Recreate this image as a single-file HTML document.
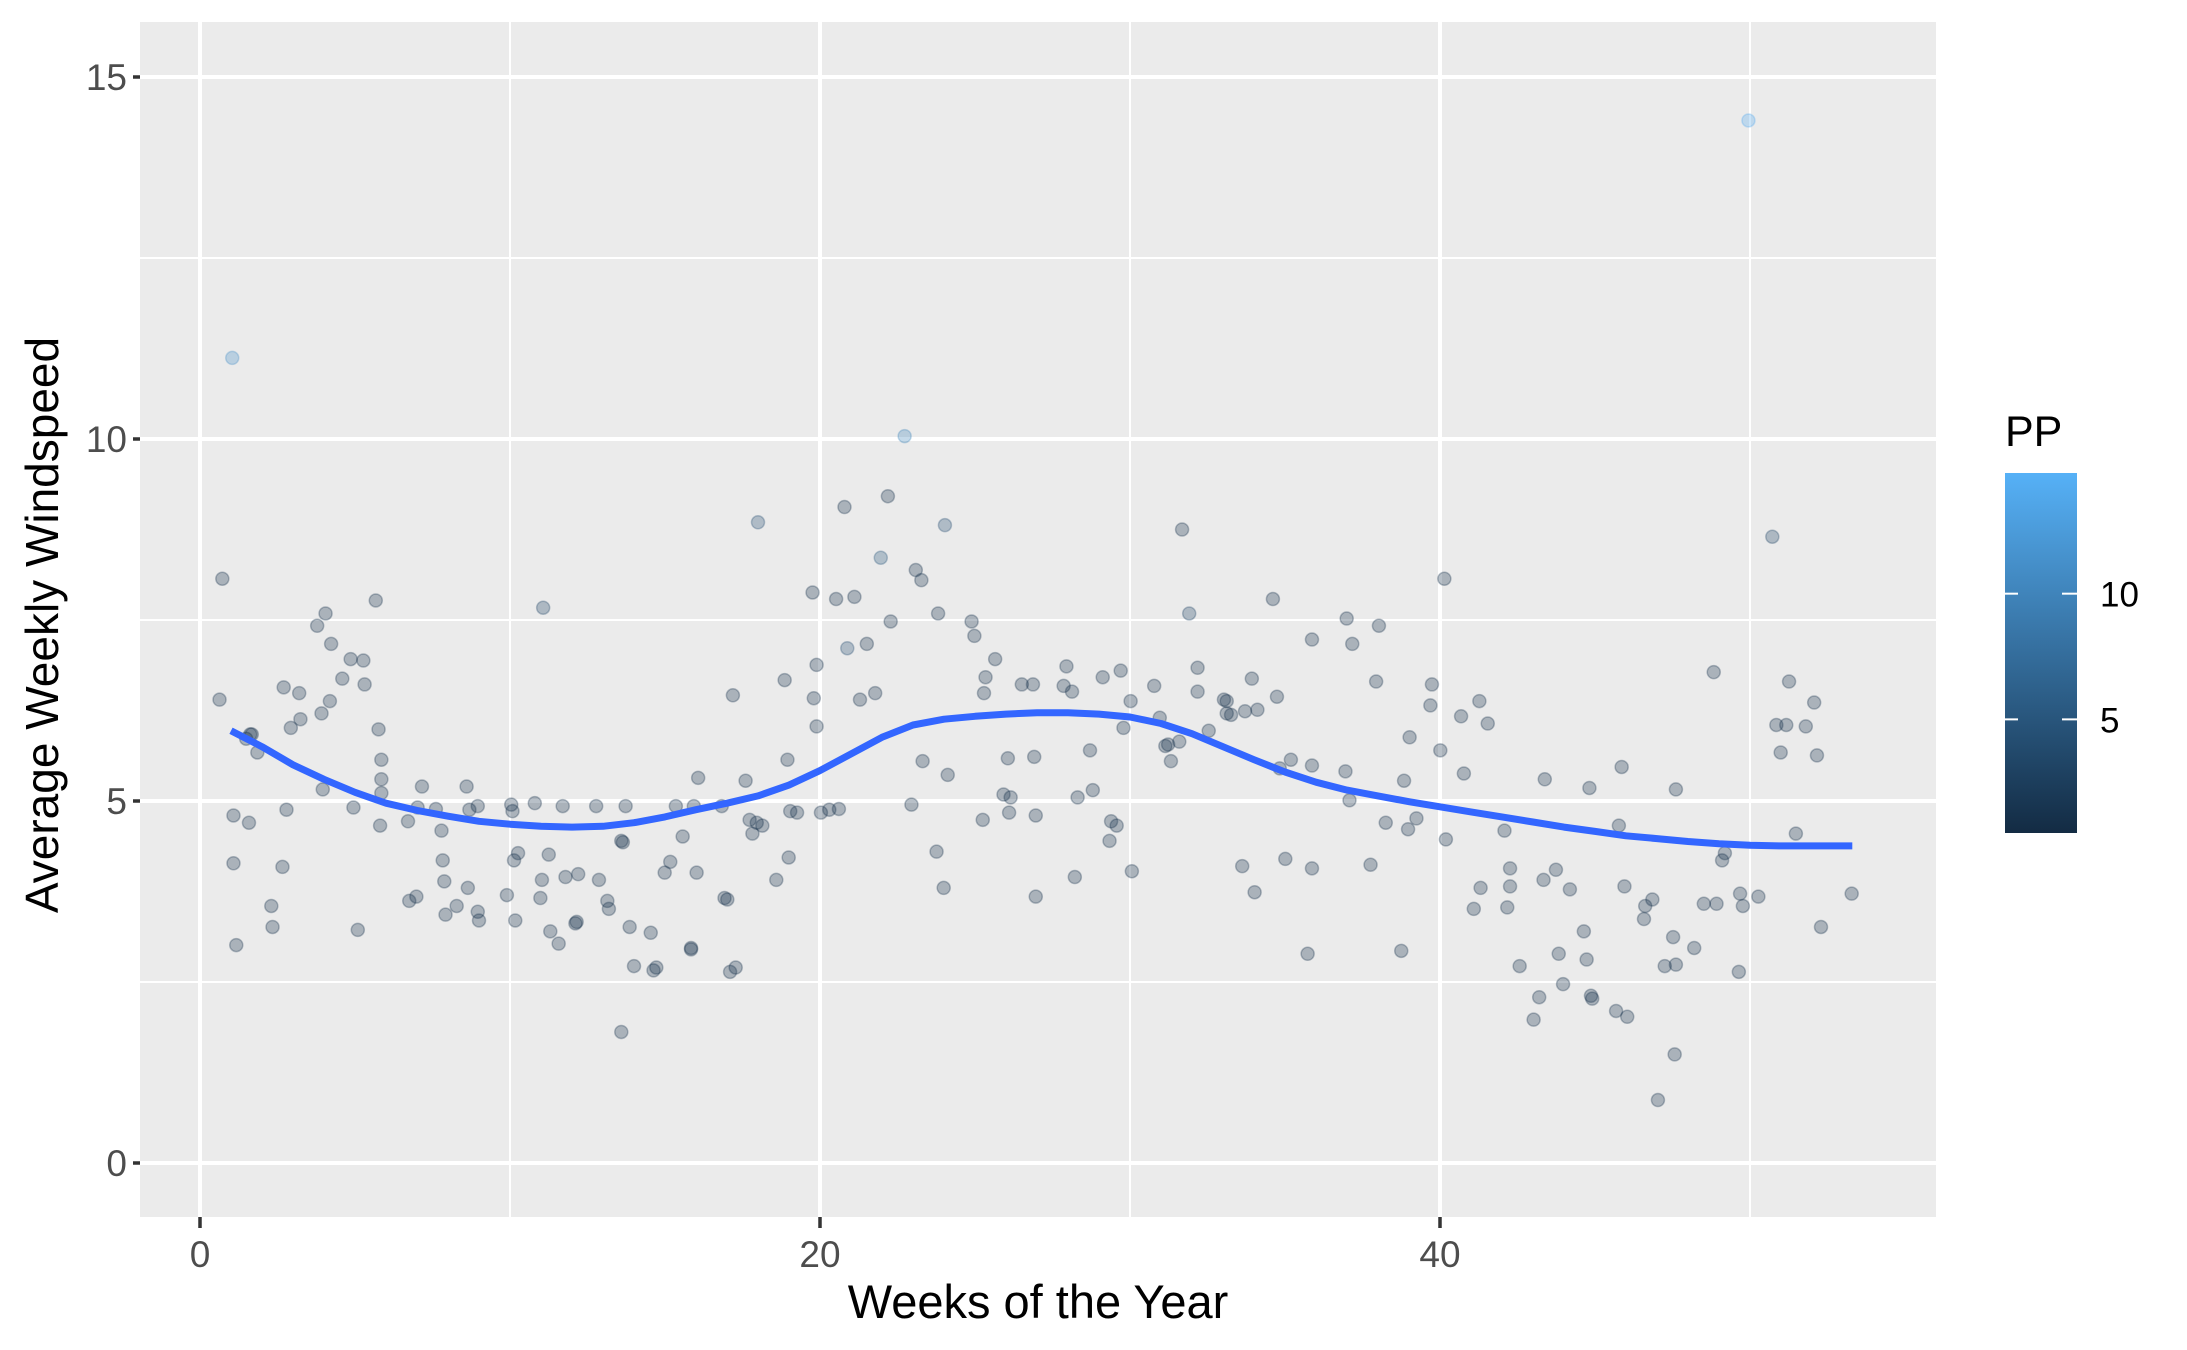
<!DOCTYPE html>
<html><head><meta charset="utf-8"><style>
html,body{margin:0;padding:0;background:#fff;}
svg{display:block;font-family:"Liberation Sans",Arial,sans-serif;}
</style></head><body>
<svg id="chart" width="2187" height="1350" viewBox="0 0 2187 1350" xmlns="http://www.w3.org/2000/svg">
<defs>
<linearGradient id="ppgrad" x1="0" y1="1" x2="0" y2="0">
<stop offset="0" stop-color="#132B43"/><stop offset="1" stop-color="#56B1F7"/>
</linearGradient>
</defs>
<rect x="140" y="22" width="1796" height="1195" fill="#EBEBEB"/>
<g id="grid"></g>
<g id="points"></g>
<g id="smooth"></g>
<g id="axes"></g>
<text x="1038" y="1318" font-size="47" text-anchor="middle" fill="#000">Weeks of the Year</text>
<text transform="translate(58,625) rotate(-90)" font-size="46" text-anchor="middle" fill="#000">Average Weekly Windspeed</text>
<g>
<text x="2005" y="446" font-size="43" fill="#000">PP</text>
<rect x="2005" y="473" width="72" height="360" fill="url(#ppgrad)"/>
<g id="legendticks"></g>
</g>
</svg>
<script>
const xTicks=[0,20,40];
const xMinor=[10,30,50];
const yTicks=[0,5,10,15];
const yMinor=[2.5,7.5,12.5];
const legendTicks=[5,10];
const weeks=[0.63,0.72,1.04,1.08,1.08,1.17,1.49,1.58,1.62,1.67,1.85,2.30,2.34,2.66,2.70,2.79,2.93,3.20,3.24,3.78,3.92,3.96,4.05,4.19,4.23,4.59,4.86,4.95,5.09,5.27,5.31,5.67,5.76,5.81,5.85,5.85,5.85,6.71,6.75,6.98,7.02,7.16,7.61,7.79,7.83,7.88,7.92,8.28,8.60,8.64,8.69,8.96,9.00,8.96,9.90,10.04,10.08,10.13,10.17,10.26,10.80,10.98,11.03,11.07,11.25,11.30,11.57,11.70,11.79,12.11,12.15,12.20,12.78,12.87,13.14,13.19,13.59,13.64,13.59,13.73,13.86,14.00,14.54,14.63,14.72,14.99,15.17,15.35,15.57,15.84,15.84,15.93,16.02,16.07,16.83,16.92,17.01,17.10,17.19,17.28,17.60,17.73,17.82,17.96,18.00,18.14,18.59,18.86,18.95,18.99,19.04,19.26,19.76,19.80,19.89,19.89,20.03,20.30,20.52,20.61,20.79,20.88,21.11,21.29,21.51,21.78,21.96,22.19,22.28,22.73,22.95,23.09,23.27,23.31,23.76,23.81,23.99,24.03,24.12,24.89,24.98,25.25,25.29,25.34,25.65,25.92,26.06,26.10,26.15,26.51,26.87,26.91,26.96,26.96,27.86,27.95,28.13,28.22,28.31,28.71,28.80,29.12,29.34,29.39,29.57,29.70,29.79,30.02,30.06,30.78,30.96,31.14,31.23,31.32,31.59,31.68,31.91,32.18,32.18,32.54,33.03,33.12,33.12,33.26,33.62,33.71,33.93,34.02,34.11,34.61,34.74,34.83,35.01,35.19,35.73,35.87,35.87,35.87,36.95,36.99,37.08,37.17,37.76,37.94,38.03,38.25,38.75,38.84,38.97,39.02,39.24,39.69,39.74,40.01,40.14,40.19,40.68,40.77,41.09,41.27,41.31,41.54,42.08,42.17,42.26,42.26,42.57,43.02,43.20,43.34,43.38,43.74,43.83,43.97,44.19,44.64,44.73,44.82,44.87,44.91,45.68,45.77,45.86,45.95,46.04,46.58,46.62,46.85,47.03,47.25,47.52,47.57,47.61,47.61,48.20,48.51,48.83,48.92,49.10,49.19,49.64,49.68,49.77,49.95,50.27,50.72,50.85,50.99,51.17,51.26,51.48,51.80,52.07,52.16,52.29,53.28];
const windspeed=[6.40,8.07,11.12,4.80,4.14,3.01,5.86,4.70,5.92,5.92,5.67,3.55,3.26,4.09,6.57,4.88,6.01,6.49,6.13,7.42,6.21,5.16,7.59,6.38,7.17,6.69,6.96,4.91,3.22,6.94,6.61,7.77,5.99,4.66,5.57,5.30,5.11,4.72,3.62,3.68,4.91,5.20,4.89,4.59,4.18,3.89,3.43,3.55,5.20,3.80,4.88,3.47,3.35,4.93,3.70,4.95,4.86,4.18,3.35,4.28,4.97,3.66,3.91,7.67,4.26,3.20,3.03,4.93,3.95,3.31,3.33,3.99,4.93,3.91,3.62,3.51,4.45,4.43,1.81,4.93,3.26,2.72,3.18,2.66,2.70,4.01,4.16,4.93,4.51,2.97,2.95,4.93,4.01,5.32,4.93,3.66,3.64,2.64,6.46,2.70,5.28,4.74,4.55,4.70,8.85,4.66,3.91,6.67,5.57,4.22,4.86,4.84,7.88,6.42,6.03,6.88,4.84,4.88,7.79,4.89,9.06,7.11,7.82,6.40,7.17,6.49,8.36,9.21,7.48,10.04,4.95,8.19,8.05,5.55,4.30,7.59,3.80,8.81,5.36,7.48,7.28,4.74,6.49,6.71,6.96,5.09,5.59,4.84,5.05,6.61,6.61,5.61,4.80,3.68,6.59,6.86,6.51,3.95,5.05,5.70,5.15,6.71,4.45,4.72,4.66,6.80,6.01,6.38,4.03,6.59,6.15,5.76,5.78,5.55,5.82,8.75,7.59,6.51,6.84,5.97,6.40,6.38,6.21,6.19,4.10,6.24,6.69,3.74,6.26,7.79,6.44,5.45,4.20,5.57,2.89,7.23,5.49,4.07,5.41,7.52,5.01,7.17,4.12,6.65,7.42,4.70,2.93,5.28,4.61,5.88,4.76,6.32,6.61,5.70,8.07,4.47,6.17,5.38,3.51,6.38,3.80,6.07,4.59,3.53,4.07,3.82,2.72,1.98,2.29,3.91,5.30,4.05,2.89,2.47,3.78,3.20,2.81,5.18,2.31,2.27,2.10,4.66,5.47,3.82,2.02,3.37,3.55,3.64,0.87,2.72,3.12,1.50,2.74,5.16,2.97,3.58,6.78,3.58,4.18,4.28,2.64,3.72,3.55,14.40,3.68,8.65,6.05,5.67,6.05,6.65,4.55,6.03,6.36,5.63,3.26,3.72];
const ppBright=[[2,11],[63,3],[104,4],[121,4],[126,5],[129,10],[137,4],[176,3],[263,14],[265,3]];
const smoothWeeks=[1,2,3,4,5,6,7,8,9,10,11,12,13,14,15,16,17,18,19,20,21,22,23,24,25,26,27,28,29,30,31,32,33,34,35,36,37,38,39,40,41,42,43,44,45,46,47,48,49,50,51,52,53.3];
const smoothVals=[5.97,5.75,5.50,5.30,5.12,4.97,4.87,4.79,4.72,4.68,4.65,4.64,4.65,4.70,4.78,4.88,4.97,5.07,5.22,5.42,5.65,5.88,6.05,6.13,6.17,6.20,6.22,6.22,6.20,6.16,6.07,5.93,5.75,5.57,5.40,5.26,5.15,5.07,4.99,4.92,4.85,4.78,4.71,4.64,4.58,4.52,4.48,4.44,4.41,4.39,4.38,4.38,4.38];
const ppMin=0.48, ppMax=14.8;
const NS="http://www.w3.org/2000/svg";
const X0=140,X1=1936,Y0=22,Y1=1217;
function xs(w){return 200+w*31.0;}
function ys(v){return 1163-v*72.4;}
function ppY(p){return 833-(p-ppMin)/(ppMax-ppMin)*360;}
function mk(tag,attrs,parent){const e=document.createElementNS(NS,tag);for(const k in attrs)e.setAttribute(k,attrs[k]);parent.appendChild(e);return e;}
function lerpColor(p){const t=Math.max(0,Math.min(1,(p-ppMin)/(ppMax-ppMin)));const a=[19,43,67],b=[86,177,247];return 'rgb('+a.map((c,i)=>Math.round(c+(b[i]-c)*t)).join(',')+')';}
const grid=document.getElementById('grid');
yMinor.forEach(v=>{const l=mk('line',{x1:X0,x2:X1,y1:ys(v),y2:ys(v),stroke:'#fff','stroke-width':2},grid);

});
xMinor.forEach(v=>{const l=mk('line',{x1:xs(v),x2:xs(v),y1:Y0,y2:Y1,stroke:'#fff','stroke-width':2},grid);

});
yTicks.forEach(v=>{const l=mk('line',{x1:X0,x2:X1,y1:ys(v),y2:ys(v),stroke:'#fff','stroke-width':4},grid);

});
xTicks.forEach(v=>{const l=mk('line',{x1:xs(v),x2:xs(v),y1:Y0,y2:Y1,stroke:'#fff','stroke-width':4},grid);

});
const pts=document.getElementById('points');
const pp=weeks.map(()=>1);
ppBright.forEach(([i,p])=>{pp[i]=p;});
weeks.forEach((w,i)=>{const c=mk('circle',{cx:xs(w),cy:ys(windspeed[i]),r:6.5,fill:lerpColor(pp[i]),'fill-opacity':0.3,stroke:lerpColor(pp[i]),'stroke-opacity':0.3,'stroke-width':1.5},pts);

});
const sm=document.getElementById('smooth');
const d=smoothWeeks.map((w,i)=>(i?'L':'M')+xs(w).toFixed(1)+' '+ys(smoothVals[i]).toFixed(1)).join(' ');
const path=mk('path',{d:d,fill:'none',stroke:'#3366FF','stroke-width':7,'stroke-linejoin':'round'},sm);


const ax=document.getElementById('axes');
yTicks.forEach(v=>{const t=mk('line',{x1:133,x2:140,y1:ys(v),y2:ys(v),stroke:'#333','stroke-width':3.5},ax);


const tx=mk('text',{x:127,y:ys(v)+13,'font-size':37,'text-anchor':'end',fill:'#4D4D4D'},ax);tx.textContent=v;

});
xTicks.forEach(v=>{const t=mk('line',{x1:xs(v),x2:xs(v),y1:1217,y2:1228,stroke:'#333','stroke-width':3.5},ax);


const tx=mk('text',{x:xs(v),y:1267,'font-size':37,'text-anchor':'middle',fill:'#4D4D4D'},ax);tx.textContent=v;

});
const lt=document.getElementById('legendticks');
legendTicks.forEach(v=>{const y=ppY(v);
const a=mk('line',{x1:2005,x2:2018,y1:y,y2:y,stroke:'#fff','stroke-width':2},lt);


const b=mk('line',{x1:2062,x2:2077,y1:y,y2:y,stroke:'#fff','stroke-width':2},lt);


const tx=mk('text',{x:2100,y:y+13,'font-size':35,fill:'#000'},lt);tx.textContent=v;

});
</script>
</body></html>
